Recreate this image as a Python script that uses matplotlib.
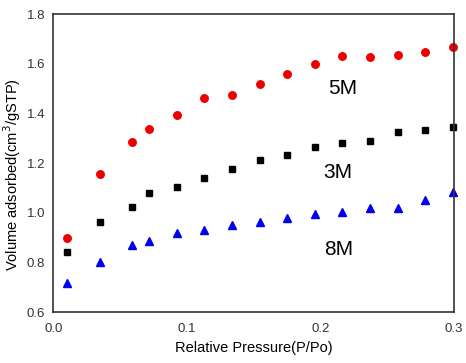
import matplotlib
matplotlib.use("Agg")
import matplotlib.pyplot as plt

plt.rcParams['font.family'] = ['Liberation Sans', 'DejaVu Sans']

pressure = [0.010, 0.035, 0.059, 0.072, 0.093, 0.113, 0.134, 0.155, 0.175,
            0.196, 0.216, 0.237, 0.258, 0.278, 0.299]
vol_5m = [0.898, 1.156, 1.285, 1.339, 1.394, 1.464, 1.476, 1.517, 1.559,
          1.599, 1.630, 1.628, 1.635, 1.647, 1.666]
vol_3m = [0.841, 0.962, 1.025, 1.079, 1.103, 1.140, 1.177, 1.214, 1.233,
          1.265, 1.280, 1.291, 1.327, 1.332, 1.347]
vol_8m = [0.719, 0.802, 0.870, 0.887, 0.920, 0.931, 0.953, 0.965, 0.978,
          0.994, 1.005, 1.021, 1.021, 1.053, 1.083]

labels = ["5M", "3M", "8M"]
label_pos = [(0.2166, 1.501), (0.2134, 1.163), (0.2134, 0.853)]

fig = plt.figure(figsize=(4.66, 3.63), dpi=100)
ax = fig.add_axes([0.1144, 0.1397, 0.8596, 0.8217])

ax.plot(pressure, vol_5m, 'o', color='#ee0000', markersize=5.4, clip_on=False)
ax.plot(pressure, vol_3m, 's', color='black', markersize=4.4, clip_on=False)
ax.plot(pressure, vol_8m, '^', color='#0000ee', markersize=5.2, clip_on=False)

for lab, (x, y) in zip(labels, label_pos):
  ax.text(x, y, lab, fontsize=15, ha='center', va='center')

ax.set_xlim(0, 0.3)
ax.set_ylim(0.6, 1.8)
ax.set_xticks([0.0, 0.1, 0.2, 0.3])
ax.set_xticklabels(["0.0", "0.1", "0.2", "0.3"])
ax.set_yticks([0.6, 0.8, 1.0, 1.2, 1.4, 1.6, 1.8])
ax.tick_params(length=0, labelsize=9.5, colors='#333333')
ax.tick_params(axis='x', pad=8)
ax.tick_params(axis='y', pad=6)
for s in ax.spines.values():
  s.set_color('#333333')
  s.set_linewidth(1.2)

ax.set_xlabel("Relative Pressure(P/Po)", fontsize=10.5)
ax.set_ylabel("Volume adsorbed(cm$^3$/gSTP)", fontsize=10.5)
ax.xaxis.set_label_coords(0.5, -0.095)
ax.yaxis.set_label_coords(-0.075, 0.46)

fig.savefig("out.png", dpi=100)
